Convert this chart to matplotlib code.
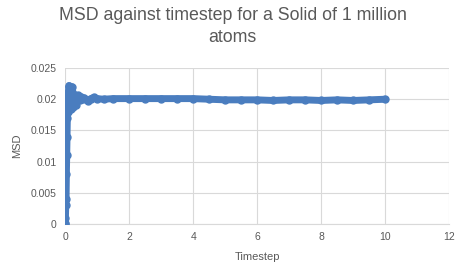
import matplotlib
matplotlib.use("Agg")
import matplotlib.pyplot as plt

# MSD data
timestep = [0.0, 0.0, 0.01, 0.02, 0.03, 0.04, 0.05, 0.06, 0.07, 0.08, 0.09, 0.10,
            0.12, 0.14, 0.16, 0.18, 0.20, 0.22, 0.24, 0.26, 0.28, 0.30, 0.33,
            0.36, 0.40, 0.45, 0.50, 0.55, 0.60, 0.70, 0.80, 0.90, 1.0, 1.2,
            1.5, 2.0, 2.5, 3.0, 3.5, 4.0, 4.5, 5.0, 5.5, 6.0, 6.5, 7.0, 7.5,
            8.0, 8.5, 9.0, 9.5, 10.0]
msd = [0.0, 0.0002, 0.001, 0.003, 0.004, 0.008, 0.011, 0.014, 0.017, 0.018, 0.0195, 0.021,
       0.0222, 0.0218, 0.0205, 0.0185, 0.0212, 0.0220, 0.0195, 0.0187, 0.0203, 0.0206, 0.0190,
       0.0200, 0.0206, 0.0198, 0.0204, 0.0200, 0.0202, 0.0197, 0.0201, 0.0203, 0.0201, 0.0200,
       0.0201, 0.0201, 0.0201, 0.0201, 0.0201, 0.0201, 0.0200, 0.0199, 0.0199, 0.0199, 0.0198, 0.0199, 0.0199,
       0.0198, 0.0199, 0.0198, 0.0199, 0.0200]

blue = "#4a7dbf"
grey = "#595959"
grid = "#d9d9d9"

plt.rcParams["font.family"] = ["Liberation Sans", "DejaVu Sans"]

fig = plt.figure(figsize=(4.65, 2.8), dpi=100)
ax = fig.add_axes([0.14, 0.2, 0.826, 0.557])

ax.plot(timestep, msd, color=blue, linewidth=5, marker="o", markersize=5,
        solid_capstyle="round", solid_joinstyle="round", zorder=3)

ax.set_xlim(0, 12)
ax.set_ylim(0, 0.025)
ax.set_xticks(range(0, 13, 2))
ax.set_yticks([0, 0.005, 0.01, 0.015, 0.02, 0.025])
ax.set_yticklabels(["0", "0.005", "0.01", "0.015", "0.02", "0.025"])
ax.tick_params(length=0, labelsize=7.5, colors=grey, pad=6)
ax.grid(color=grid, linewidth=0.8)
ax.set_axisbelow(True)
for s in ["top", "right", "left"]:
    ax.spines[s].set_visible(False)
ax.spines["bottom"].set_color(grid)

ax.set_xlabel("Timestep", fontsize=8, color=grey, labelpad=7)
ax.set_ylabel("MSD", fontsize=8, color=grey, labelpad=6)
fig.suptitle("MSD against timestep for a Solid of 1 million\natoms",
             x=0.5, y=0.975, va="top", fontsize=12.8, color=grey, linespacing=1.4)

fig.savefig("out.png", dpi=100)
